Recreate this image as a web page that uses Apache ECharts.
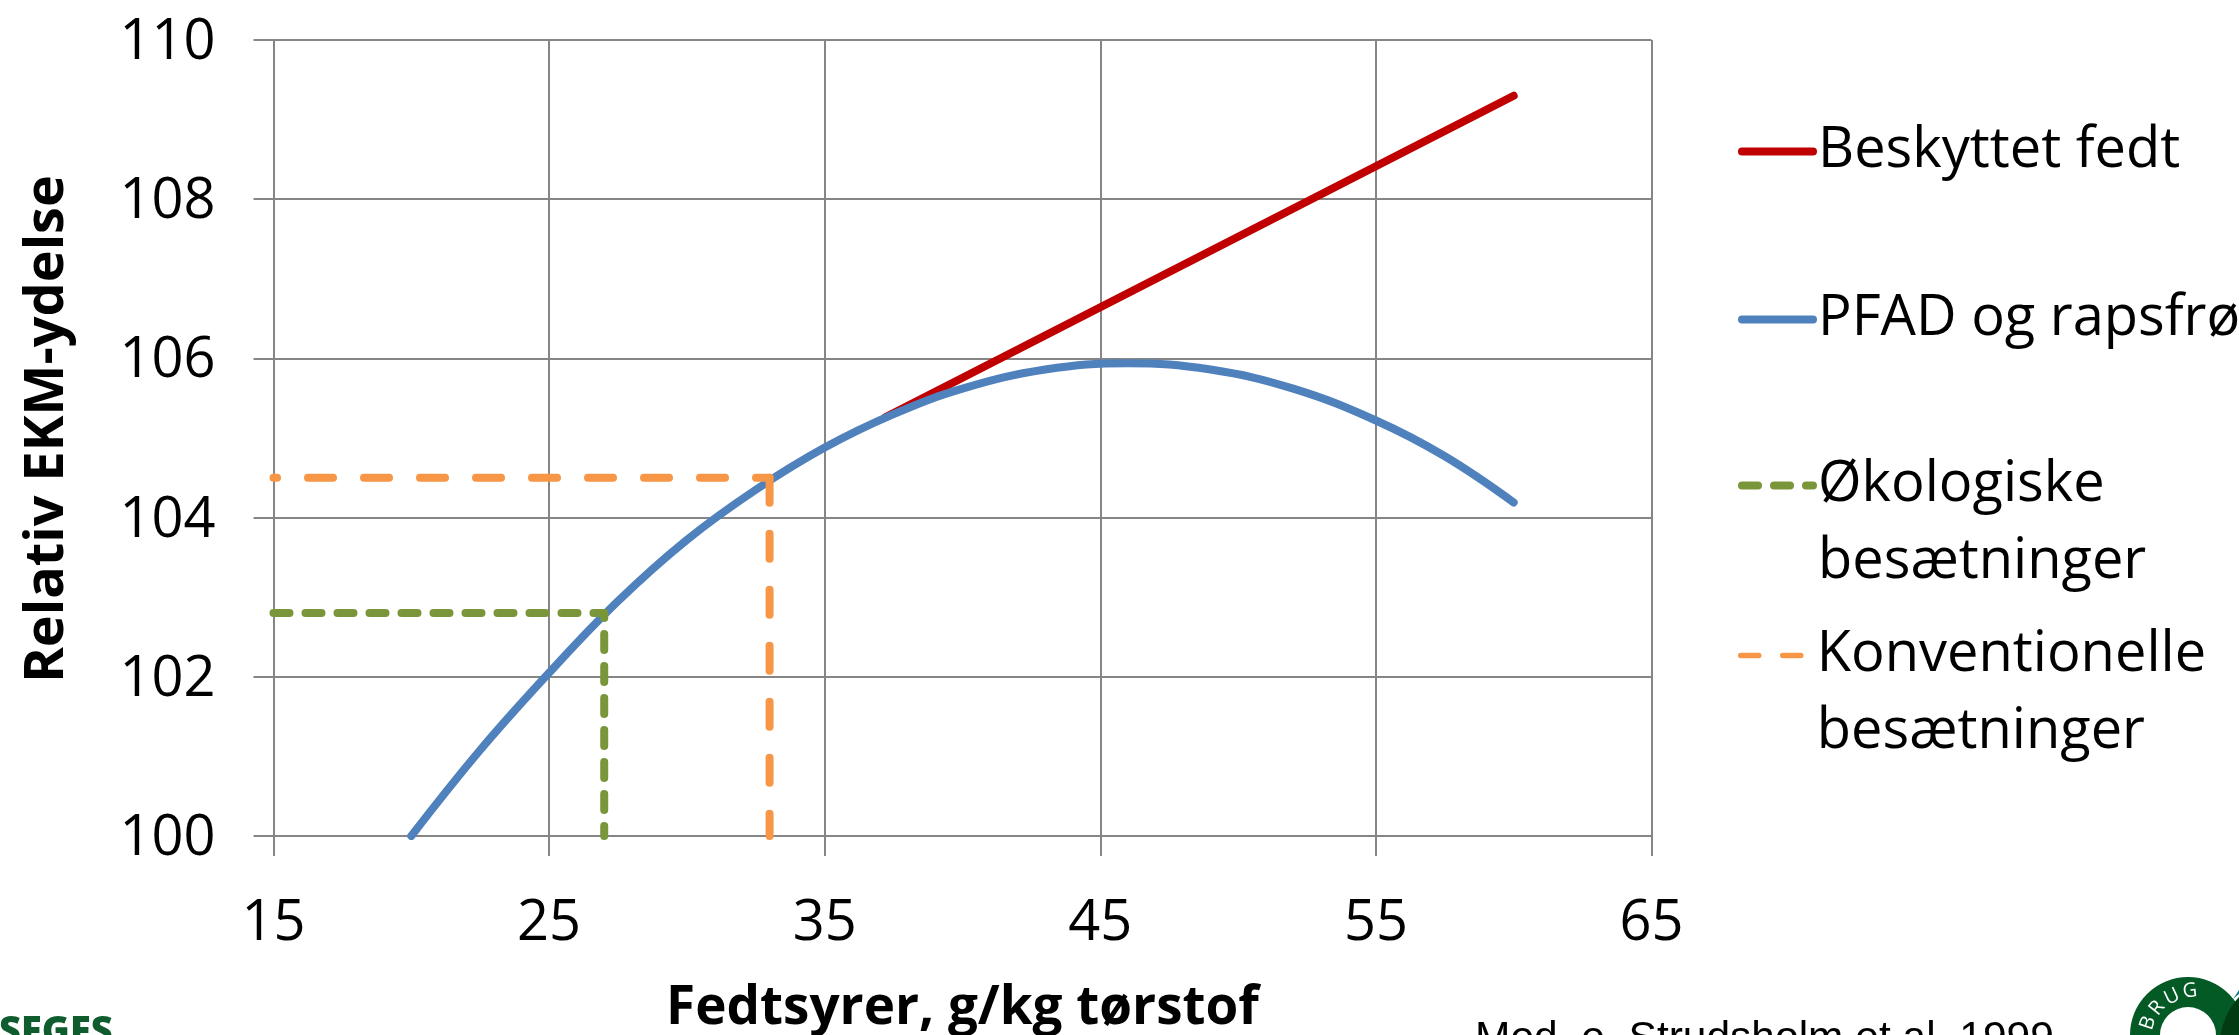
<!DOCTYPE html>
<html><head><meta charset="utf-8">
<style>html,body{margin:0;padding:0;background:#fff}#c{width:2239px;height:1035px}</style>
<script src="https://cdn.jsdelivr.net/npm/echarts@6/dist/echarts.min.js"></script>
</head><body><div id="c"></div>
<script>
const xTicks = [15, 25, 35, 45, 55, 65];
const seriesNames = ['Beskyttet fedt', 'PFAD og rapsfrø', 'Økologiske besætninger', 'Konventionelle besætninger'];
const legendLabels = ['Beskyttet fedt', 'PFAD og rapsfrø', '\u00a0\nØkologiske\nbesætninger', '\u00a0\nKonventionelle\nbesætninger'];
const xAxisTitle = 'Fedtsyrer, g/kg tørstof';
const yAxisTitle = 'Relativ EKM-ydelse';
const beskyttetFedt = [[37.2, 105.26], [60, 109.3]];
const pfadRapsfro = [[20, 100], [22.5, 101.08], [25, 102.05], [27.5, 102.95], [30, 103.72], [32.5, 104.35], [35, 104.88], [37.5, 105.3], [40, 105.62], [43, 105.86], [46, 105.94], [49, 105.86], [52, 105.62], [55, 105.22], [57.5, 104.77], [60, 104.19]];
const okoH = [[15, 102.8], [27, 102.8]];
const okoV = [[27, 102.8], [27, 100]];
const konvH = [[15, 104.5], [33, 104.5]];
const konvV = [[33, 104.5], [33, 100]];

const GRAY = '#868686', RED = '#c00000', BLUE = '#4f81bd', GREEN = '#7a963b', ORANGE = '#f79646';
const FONT = 'Open Sans';
const line = (name, data, color, width, z, extra) => ({
  type: 'line', name, data, z, symbol: 'none', animation: false, silent: true,
  smooth: extra && extra.smooth ? 0.4 : false,
  lineStyle: Object.assign({ color, width, cap: 'round', join: 'round' }, extra && extra.style),
  itemStyle: { color }
});
const legendAt = (i, top, lineStyle) => ({
  data: [seriesNames[i]], left: 1738, top, orient: 'vertical', padding: 0,
  itemWidth: 71, itemHeight: 14, selectedMode: false,
  formatter: () => legendLabels[i],
  itemStyle: { opacity: 0 },
  lineStyle: Object.assign({ cap: 'round', dashOffset: 0 }, lineStyle),
  textStyle: { fontFamily: FONT, fontSize: 56, color: '#000', lineHeight: 77 }
});

const chart = echarts.init(document.getElementById('c'), null, { renderer: 'canvas' });
chart.setOption({
  animation: false,
  backgroundColor: '#fff',
  grid: { left: 273.5, top: 40, width: 1378, height: 796, containLabel: false, outerBoundsMode: 'none' },
  xAxis: {
    type: 'value', min: 15, max: 65, name: xAxisTitle, nameLocation: 'middle', nameGap: 146,
    nameTextStyle: { fontFamily: FONT, fontSize: 53, fontWeight: 'bold', color: '#000' },
    axisLine: { show: true, onZero: false, lineStyle: { color: GRAY, width: 2 } },
    axisTick: { show: true, length: 20, inside: false, customValues: xTicks, lineStyle: { color: GRAY, width: 2 } },
    axisLabel: { customValues: xTicks, margin: 60, fontFamily: FONT, fontSize: 56, color: '#000' },
    splitLine: { show: true, lineStyle: { color: GRAY, width: 2 } }
  },
  yAxis: {
    type: 'value', min: 100, max: 110, interval: 2, name: yAxisTitle, nameLocation: 'middle', nameGap: 199, nameRotate: 90,
    nameTextStyle: { fontFamily: FONT, fontSize: 54, fontWeight: 'bold', color: '#000', padding: [0, 0, 0, 18] },
    axisLine: { show: true, onZero: false, lineStyle: { color: GRAY, width: 2 } },
    axisTick: { show: true, length: 20, inside: false, lineStyle: { color: GRAY, width: 2 } },
    axisLabel: { margin: 58, fontFamily: FONT, fontSize: 56, color: '#000', verticalAlign: 'top', lineHeight: 56, padding: [-25, 0, 0, 0] },
    splitLine: { show: true, lineStyle: { color: GRAY, width: 2 } }
  },
  legend: [
    legendAt(0, 113, { width: 8 }),
    legendAt(1, 281, { width: 8 }),
    legendAt(2, 370, { width: 8, type: [16, 16] }),
    legendAt(3, 540, { width: 5.5, type: [18, 24] })
  ],
  series: [
    line(seriesNames[0], beskyttetFedt, RED, 8, 2),
    line(seriesNames[1], pfadRapsfro, BLUE, 8, 3, { smooth: true }),
    line(seriesNames[2], okoH, GREEN, 8, 4, { style: { type: [16, 16], dashOffset: 0 } }),
    line(seriesNames[2], okoV, GREEN, 8, 4, { style: { type: [16, 16], dashOffset: 11 } }),
    line(seriesNames[3], konvH, ORANGE, 8, 4, { style: { type: [25, 31], dashOffset: 21.5 } }),
    line(seriesNames[3], konvV, ORANGE, 8, 4, { style: { type: [25, 31], dashOffset: 0 } })
  ],
  graphic: [
    { type: 'text', left: -1, top: 1014, silent: true, style: { text: 'SEGES', fontFamily: FONT, fontWeight: 800, fontSize: 38, fill: '#0f5c2e' } },
    { type: 'text', left: 1475, top: 1018, silent: true, style: { text: 'Med. e. Strudsholm et al. 1999', fontFamily: 'Liberation Sans', fontSize: 42.5, fill: '#000' } },
    { type: 'ring', silent: true, z: 5, shape: { cx: 2188, cy: 1035, r: 58, r0: 28 }, style: { fill: '#045a25' } },
    { type: 'circle', silent: true, z: 6, shape: { cx: 2290, cy: 1045, r: 70 }, style: { fill: '#023a12' } },
    { type: 'polygon', silent: true, z: 6, shape: { points: [[2233, 999], [2239, 990], [2239, 994]] }, style: { fill: '#1a7a8a' } },
    { type: 'text', silent: true, z: 7, x: 2148, y: 1023, rotation: 1.25, style: { text: 'B', x: 0, y: 0, align: 'center', verticalAlign: 'middle', fontFamily: FONT, fontSize: 20, fill: '#fff' } },
    { type: 'text', silent: true, z: 7, x: 2157, y: 1008, rotation: 0.9, style: { text: 'R', x: 0, y: 0, align: 'center', verticalAlign: 'middle', fontFamily: FONT, fontSize: 20, fill: '#fff' } },
    { type: 'text', silent: true, z: 7, x: 2172, y: 997, rotation: 0.45, style: { text: 'U', x: 0, y: 0, align: 'center', verticalAlign: 'middle', fontFamily: FONT, fontSize: 20, fill: '#fff' } },
    { type: 'text', silent: true, z: 7, x: 2190, y: 991, rotation: 0.1, style: { text: 'G', x: 0, y: 0, align: 'center', verticalAlign: 'middle', fontFamily: FONT, fontSize: 20, fill: '#fff' } }
  ]
});
</script></body></html>
